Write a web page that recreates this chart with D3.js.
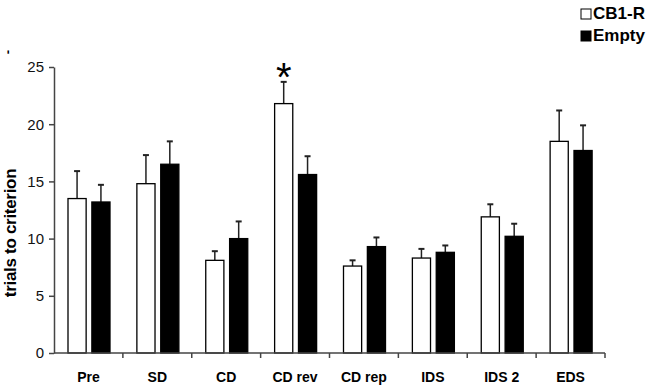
<!DOCTYPE html>
<html>
<head>
<meta charset="utf-8">
<script src="https://cdn.jsdelivr.net/npm/d3@7"></script>
<style>
  body { margin: 0; background: #fff; }
  text { font-family: Arial, "Liberation Sans", sans-serif; }
</style>
</head>
<body>
<div id="chart"></div>
<script>
var categories = ["Pre", "SD", "CD", "CD rev", "CD rep", "IDS", "IDS 2", "EDS"];
var seriesNames = ["CB1-R", "Empty"];
var cb1Means = [13.5, 14.8, 8.1, 21.8, 7.6, 8.3, 11.9, 18.5];
var cb1Errors = [2.4, 2.5, 0.8, 1.9, 0.5, 0.8, 1.1, 2.7];
var emptyMeans = [13.2, 16.5, 10.0, 15.6, 9.3, 8.8, 10.2, 17.7];
var emptyErrors = [1.5, 2.0, 1.5, 1.6, 0.8, 0.6, 1.1, 2.2];
var yTicks = [0, 5, 10, 15, 20, 25];
var significant = ["CD rev"];

var width = 654, height = 385;
var mLeft = 54, mRight = 49, mTop = 67, mBot = 32;

var svg = d3.select("#chart").append("svg")
    .attr("width", width)
    .attr("height", height);

var g = svg.append("g")
    .attr("transform", "translate(" + mLeft + "," + mTop + ")");

var w = width - mLeft - mRight;
var h = height - mTop - mBot;

var x = d3.scaleBand()
    .domain(categories)
    .range([0, w]);

var inner = d3.scaleBand()
    .domain(seriesNames)
    .range([14, 56])
    .paddingInner(0.24);

var y = d3.scaleLinear()
    .domain([0, 25])
    .range([h, 0]);

// rows of data, one per category and series
var rows = [];
categories.forEach(function(c, i) {
    rows.push({cat: c, s: "CB1-R", v: cb1Means[i], e: cb1Errors[i]});
    rows.push({cat: c, s: "Empty", v: emptyMeans[i], e: emptyErrors[i]});
});

// error bars (upper only)
var err = g.selectAll(".err")
    .data(rows)
    .enter().append("g")
    .attr("class", "err")
    .attr("transform", function(d) { return "translate(" + (x(d.cat) + inner(d.s) + inner.bandwidth() / 2) + ",0)"; });

err.append("line")
    .attr("y1", function(d) { return y(d.v); })
    .attr("y2", function(d) { return y(d.v + d.e); })
    .style("stroke", "#222")
    .style("stroke-width", 1.5);

err.append("line")
    .attr("x1", -3)
    .attr("x2", 3)
    .attr("y1", function(d) { return y(d.v + d.e); })
    .attr("y2", function(d) { return y(d.v + d.e); })
    .style("stroke", "#222")
    .style("stroke-width", 2);

// bars
g.selectAll(".bar")
    .data(rows)
    .enter().append("rect")
    .attr("class", "bar")
    .attr("x", function(d) { return x(d.cat) + inner(d.s); })
    .attr("y", function(d) { return y(d.v); })
    .attr("width", inner.bandwidth())
    .attr("height", function(d) { return h - y(d.v); })
    .style("fill", function(d) { return d.s == "CB1-R" ? "#fff" : "#000"; })
    .style("stroke", "#000")
    .style("stroke-width", 1.3);

// significance star
g.selectAll(".star")
    .data(significant)
    .enter().append("text")
    .attr("class", "star")
    .attr("x", function(d) { return x(d) + inner("CB1-R") + inner.bandwidth() / 2; })
    .attr("y", function(d) { var i = categories.indexOf(d); return y(cb1Means[i] + cb1Errors[i]) + 9; })
    .attr("text-anchor", "middle")
    .attr("font-size", "40px")
    .text("*");

// y axis
var yAxis = g.append("g")
    .call(d3.axisLeft(y).tickValues(yTicks).tickSize(5).tickSizeOuter(0).tickPadding(5));
yAxis.select(".domain").style("stroke", "#444").style("stroke-width", 1.5);
yAxis.selectAll(".tick line").style("stroke", "#444").style("stroke-width", 1.5);
yAxis.selectAll("text")
    .attr("font-size", "15px")
    .style("font-family", "Arial, 'Liberation Sans', sans-serif")
    .style("fill", "#111");

// x axis: line with ticks between categories
var xAxisG = g.append("g").attr("transform", "translate(0," + h + ")");
xAxisG.append("line")
    .attr("x1", 0).attr("x2", w)
    .style("stroke", "#444").style("stroke-width", 1.5);
xAxisG.selectAll(".xtick")
    .data(categories.slice(1).concat(["end"]))
    .enter().append("line")
    .attr("class", "xtick")
    .attr("x1", function(d, i) { return x.step() * (i + 1); })
    .attr("x2", function(d, i) { return x.step() * (i + 1); })
    .attr("y1", 0).attr("y2", 5)
    .style("stroke", "#444").style("stroke-width", 1.5);
xAxisG.selectAll(".xlabel")
    .data(categories)
    .enter().append("text")
    .attr("class", "xlabel")
    .attr("x", function(d) { return x(d) + x.bandwidth() / 2; })
    .attr("y", 29)
    .attr("text-anchor", "middle")
    .attr("font-size", "14px")
    .attr("font-weight", "bold")
    .text(function(d) { return d; });

// y axis title
svg.append("text")
    .attr("transform", "translate(16,233) rotate(-90)")
    .attr("text-anchor", "middle")
    .attr("font-size", "17px")
    .attr("font-weight", "bold")
    .style("letter-spacing", "-0.3px")
    .text("trials to criterion");

svg.append("text")
    .attr("transform", "translate(12,52) rotate(-90)")
    .attr("text-anchor", "middle")
    .attr("font-size", "13px")
    .attr("font-weight", "bold")
    .text("-");

// legend
var legend = svg.selectAll(".legend")
    .data(seriesNames)
    .enter().append("g")
    .attr("class", "legend")
    .attr("transform", function(d, i) { return "translate(581," + (8 + i * 22) + ")"; });

legend.append("rect")
    .attr("y", 1)
    .attr("width", 10)
    .attr("height", 10)
    .style("fill", function(d) { return d == "CB1-R" ? "#fff" : "#000"; })
    .style("stroke", "#000")
    .style("stroke-width", 1);

legend.append("text")
    .attr("x", 12)
    .attr("y", 11)
    .attr("font-size", "17px")
    .attr("font-weight", "bold")
    .text(function(d) { return d; });
</script>
</body>
</html>
